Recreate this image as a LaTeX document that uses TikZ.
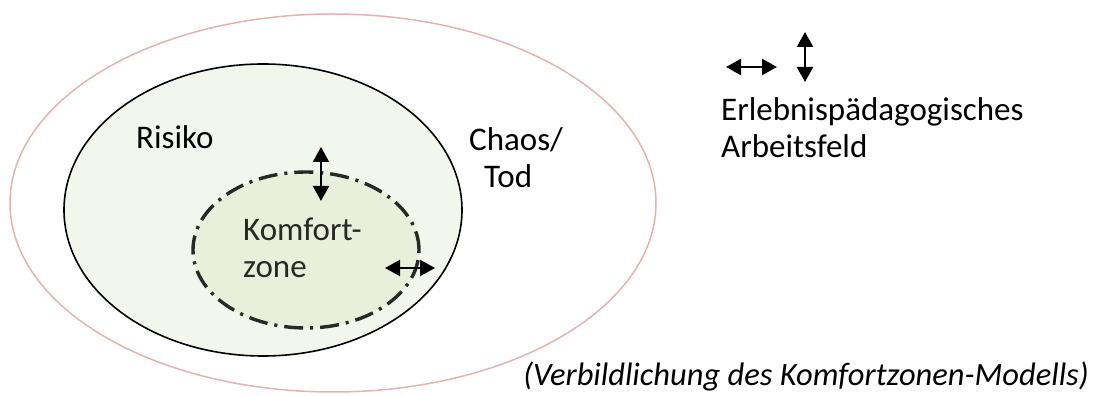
\documentclass[tikz,border=0pt]{standalone}
\usepackage{fontspec}
\setmainfont{Carlito}
\usepackage{xcolor}
\definecolor{rimpink}{RGB}{228,178,177}
\definecolor{riskgreen}{RGB}{243,246,236}
\definecolor{comfgreen}{RGB}{234,239,220}
\definecolor{darkline}{RGB}{40,40,36}
\usetikzlibrary{arrows.meta}

\begin{document}
\begin{tikzpicture}[x=1pt, y=1pt,
    label/.style={font=\fontsize{33}{37}\selectfont, inner sep=0pt},
    both/.style={line width=2.2pt, {Triangle[length=15pt,width=16pt]}-{Triangle[length=15pt,width=16pt]}}]
    \useasboundingbox (0,0) rectangle (1093,396);

    % Zones (y measured from the bottom)
    \draw[rimpink, line width=1.5pt] (333,193) ellipse [x radius=323, y radius=189];
    \draw[black, fill=riskgreen, line width=1.6pt] (263,186) ellipse [x radius=199, y radius=146];
    \draw[darkline, fill=comfgreen, line width=3.4pt, dash pattern=on 19pt off 7pt on 3pt off 7pt]
        (306,146) ellipse [x radius=113, y radius=78];

    % Labels
    \node[label, anchor=west] (risk) at (136,259) {Risiko};
    \node[label, anchor=west, align=left] (chaos) at (469,238) {Chaos/\\\hspace*{15pt}Tod};
    \node[label, anchor=west, align=left, text=darkline] (comfort) at (243,148) {Komfort-\\zone};

    % Arrows across the zone borders
    \coordinate (vtop) at (321,249); \coordinate (vbot) at (321,195);
    \draw[both] (vtop) -- (vbot);
    \coordinate (hleft) at (385,128); \coordinate (hright) at (435,128);
    \draw[both] (hleft) -- (hright);

    % Legend
    \coordinate (lleft) at (726,329); \coordinate (lright) at (777,329);
    \draw[both] (lleft) -- (lright);
    \coordinate (ltop) at (805,364); \coordinate (lbot) at (805,314);
    \draw[both] (ltop) -- (lbot);
    \node[label, anchor=west, align=left] (field) at (721,268) {Erlebnisp\"adagogisches\\Arbeitsfeld};

    % Caption
    \node[label, anchor=east, font=\fontsize{32.5}{37}\selectfont\itshape] (caption) at (1089,20)
        {(Verbildlichung des Komfortzonen-Modells)};
\end{tikzpicture}
\end{document}
